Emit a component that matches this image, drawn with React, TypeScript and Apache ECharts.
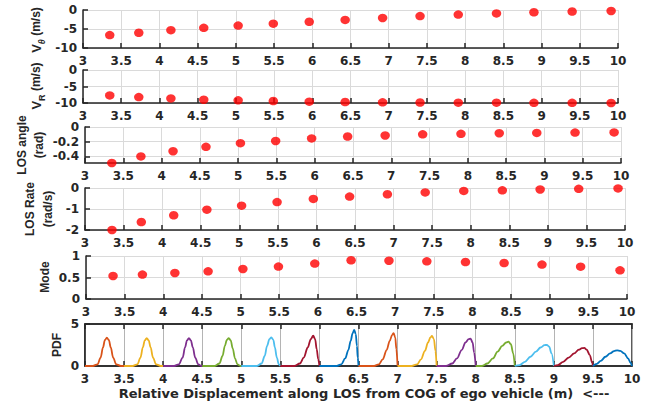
import React, { useEffect, useRef } from 'react';
import * as echarts from 'echarts';

// ---- data ----
const distance = [3.35, 3.73, 4.15, 4.58, 5.03, 5.49, 5.96, 6.43, 6.92, 7.41, 7.91, 8.41, 8.9, 9.4, 9.91];
const vTheta = [-6.6, -6.0, -5.3, -4.7, -4.1, -3.6, -3.1, -2.6, -2.1, -1.6, -1.2, -0.9, -0.6, -0.4, -0.25];
const vR = [-7.7, -8.2, -8.6, -9.0, -9.2, -9.4, -9.6, -9.7, -9.8, -9.85, -9.9, -9.9, -9.95, -9.95, -10];
const losAngle = [-0.49, -0.4, -0.33, -0.27, -0.22, -0.19, -0.155, -0.13, -0.115, -0.1, -0.093, -0.085, -0.08, -0.076, -0.074];
const losRate = [-2.0, -1.62, -1.3, -1.03, -0.84, -0.67, -0.52, -0.41, -0.3, -0.21, -0.14, -0.11, -0.07, -0.04, -0.02];
const mode = [0.535, 0.567, 0.605, 0.644, 0.698, 0.753, 0.823, 0.9, 0.89, 0.876, 0.86, 0.837, 0.8, 0.752, 0.667];

const xTickLabels = ['3', '3.5', '4', '4.5', '5', '5.5', '6', '6.5', '7', '7.5', '8', '8.5', '9', '9.5', '10'];
const losAngleTicks = [-0.4, -0.2, 0];

const pdf1 = [[3.0, 0], [3.1, 0], [3.16, 0.2], [3.2, 1.0], [3.23, 2.2], [3.255, 3.1], [3.28, 3.37], [3.305, 3.1], [3.33, 2.2], [3.36, 1.0], [3.4, 0.2], [3.46, 0], [3.5, 0]];
const pdf2 = [[3.5, 0], [3.61, 0], [3.67, 0.2], [3.71, 1.0], [3.74, 2.2], [3.765, 3.05], [3.79, 3.33], [3.815, 3.05], [3.84, 2.2], [3.87, 1.0], [3.91, 0.2], [3.97, 0], [4.0, 0]];
const pdf3 = [[4.0, 0], [4.14, 0], [4.2, 0.2], [4.25, 1.0], [4.28, 2.2], [4.305, 3.05], [4.33, 3.33], [4.355, 3.05], [4.38, 2.2], [4.41, 1.0], [4.45, 0.2], [4.49, 0], [4.5, 0]];
const pdf4 = [[4.5, 0], [4.66, 0], [4.72, 0.3], [4.76, 1.2], [4.79, 2.4], [4.815, 3.1], [4.84, 3.33], [4.865, 3.05], [4.89, 2.1], [4.92, 0.9], [4.95, 0.2], [4.99, 0], [5.0, 0]];
const pdf5 = [[5.0, 0], [5.2, 0], [5.26, 0.3], [5.3, 1.2], [5.33, 2.4], [5.36, 3.2], [5.385, 3.4], [5.41, 3.1], [5.43, 2.2], [5.455, 1.0], [5.48, 0.2], [5.5, 0]];
const pdf6 = [[5.5, 0], [5.68, 0], [5.75, 0.3], [5.8, 1.0], [5.85, 2.2], [5.89, 3.2], [5.92, 3.6], [5.945, 3.2], [5.965, 2.0], [5.985, 0.8], [6.0, 0]];
const pdf7 = [[6.0, 0], [6.22, 0], [6.28, 0.2], [6.33, 0.9], [6.37, 1.9], [6.4, 3.0], [6.425, 3.9], [6.445, 4.3], [6.465, 3.8], [6.48, 2.4], [6.49, 1.0], [6.5, 0]];
const pdf8 = [[6.5, 0], [6.7, 0], [6.76, 0.2], [6.81, 0.8], [6.86, 1.9], [6.9, 3.0], [6.93, 3.7], [6.95, 3.9], [6.97, 3.4], [6.985, 2.0], [7.0, 0]];
const pdf9 = [[7.0, 0], [7.18, 0], [7.25, 0.2], [7.3, 0.8], [7.35, 1.8], [7.39, 2.8], [7.42, 3.4], [7.44, 3.58], [7.465, 3.2], [7.485, 1.8], [7.5, 0]];
const pdf10 = [[7.5, 0], [7.62, 0], [7.7, 0.3], [7.76, 0.9], [7.82, 1.9], [7.87, 2.8], [7.91, 3.2], [7.935, 3.25], [7.96, 2.8], [7.98, 1.6], [8.0, 0]];
const pdf11 = [[8.0, 0], [8.08, 0], [8.15, 0.3], [8.22, 0.9], [8.28, 1.7], [8.34, 2.4], [8.39, 2.8], [8.42, 2.89], [8.45, 2.6], [8.48, 1.5], [8.5, 0]];
const pdf12 = [[8.5, 0], [8.56, 0.1], [8.63, 0.5], [8.7, 1.1], [8.77, 1.7], [8.83, 2.2], [8.88, 2.48], [8.91, 2.52], [8.94, 2.3], [8.97, 1.5], [9.0, 0]];
const pdf13 = [[9.0, 0], [9.05, 0.1], [9.12, 0.5], [9.19, 1.0], [9.26, 1.5], [9.32, 1.95], [9.36, 2.12], [9.39, 2.15], [9.42, 1.95], [9.46, 1.3], [9.49, 0.4], [9.5, 0]];
const pdf14 = [[9.5, 0], [9.55, 0.25], [9.6, 0.6], [9.66, 1.1], [9.72, 1.5], [9.77, 1.78], [9.81, 1.87], [9.85, 1.8], [9.9, 1.5], [9.95, 0.9], [9.98, 0.4], [10.0, 0]];
const pdfCurves = [pdf1, pdf2, pdf3, pdf4, pdf5, pdf6, pdf7, pdf8, pdf9, pdf10, pdf11, pdf12, pdf13, pdf14];

// ---- styles ----
const pdfColors = ['#D95319', '#EDB120', '#7E2F8E', '#77AC30', '#4DBEEE', '#A2142F', '#0072BD',
  '#D95319', '#EDB120', '#7E2F8E', '#77AC30', '#4DBEEE', '#A2142F', '#0072BD'];
const TICKFONT = '"DejaVu Sans", Verdana, sans-serif';
const NAMEFONT = '"Liberation Sans", Arial, sans-serif';
const DARK = '#262626';
const GRIDC = '#dadada';

const grids = [
  { left: 83, top: 10, width: 535, height: 38 },
  { left: 83, top: 70, width: 535, height: 33 },
  { left: 85, top: 127, width: 536, height: 36 },
  { left: 85, top: 188, width: 540, height: 42 },
  { left: 86, top: 256, width: 541, height: 43 },
  { left: 85, top: 324, width: 547, height: 42 },
];

export default function App() {
  const ref = useRef<HTMLDivElement>(null);
  useEffect(() => {
    if (!ref.current) return;
    const chart = echarts.init(ref.current, undefined, { renderer: 'svg' });
    const labelStyle = { color: DARK, fontWeight: 'bold' as const, fontSize: 12, fontFamily: TICKFONT };
    const xAxes: any[] = grids.map((_, i) => ({
      gridIndex: i, type: 'value', min: 3, max: 10, interval: 0.5,
      axisLine: { show: true, onZero: false, lineStyle: { color: DARK, width: 1.5 } },
      axisTick: { show: true, inside: true, length: 5, lineStyle: { color: DARK, width: 1.5 } },
      axisLabel: { ...labelStyle, margin: 7, formatter: (v: number) => xTickLabels[Math.round((v - 3) * 2)] ?? '' },
      splitLine: { show: true, lineStyle: { color: i === 5 ? '#b4b4b4' : GRIDC, width: 1 } },
    }));
    xAxes.push({
      gridIndex: 5, type: 'value', min: 3, max: 10, interval: 0.5, position: 'top',
      axisLine: { show: true, onZero: false, lineStyle: { color: DARK, width: 1.5 } },
      axisTick: { show: true, inside: true, length: 5, lineStyle: { color: DARK, width: 1.5 } },
      axisLabel: { show: false }, splitLine: { show: false },
    });
    const yBase = (i: number, extra: any) => ({
      gridIndex: i, type: 'value',
      axisLine: { show: true, onZero: false, lineStyle: { color: DARK, width: 1.5 } },
      axisTick: { show: true, inside: true, length: 5, lineStyle: { color: DARK, width: 1.5 } },
      axisLabel: { ...labelStyle, margin: 6 },
      splitLine: { show: i !== 5, lineStyle: { color: GRIDC, width: 1 } },
      ...extra,
    });
    const yAxes = [
      yBase(0, { min: -10, max: 0, interval: 5 }),
      yBase(1, { min: -10, max: 0, interval: 5 }),
      yBase(2, {
        min: -0.49, max: 0,
        axisLabel: { ...labelStyle, margin: 6, customValues: losAngleTicks },
        axisTick: { show: true, inside: true, length: 5, lineStyle: { color: DARK, width: 1.5 }, customValues: losAngleTicks },
      }),
      yBase(3, { min: -2, max: 0, interval: 1 }),
      yBase(4, { min: 0, max: 1, interval: 0.5 }),
      yBase(5, { min: 0, max: 5, interval: 5 }),
    ];
    const scatterData = [vTheta, vR, losAngle, losRate, mode];
    const series: any[] = scatterData.map((vals, i) => ({
      type: 'scatter', xAxisIndex: i, yAxisIndex: i, clip: false,
      symbolSize: [9.5, 8.5], itemStyle: { color: '#ff0000' },
      data: distance.map((x, j) => [x, vals[j]]),
    }));
    pdfCurves.forEach((c, k) => {
      series.push({
        type: 'line', xAxisIndex: 5, yAxisIndex: 5, showSymbol: false, symbol: 'none',
        smooth: 0.35, smoothMonotone: 'x', clip: false,
        lineStyle: { color: pdfColors[k], width: 1.8 }, data: c,
      });
    });
    const vt = (text: string, x: number, y: number, rich?: any) => ({
      type: 'text', x, y, rotation: Math.PI / 2,
      style: { text, fill: DARK, font: `bold 12px ${NAMEFONT}`, fontWeight: 'bold', fontSize: 12, fontFamily: NAMEFONT,
        textAlign: 'center', textVerticalAlign: 'middle', rich },
    });
    const subRich = {
      v: { fontSize: 13, fontWeight: 'bold', fontFamily: NAMEFONT, fill: DARK, lineHeight: 17, verticalAlign: 'top' },
      s: { fontSize: 9, fontWeight: 'bold', fontFamily: NAMEFONT, fill: DARK, lineHeight: 9, verticalAlign: 'bottom' },
      t: { fontSize: 9, fontWeight: 'bold', fontStyle: 'italic', fontFamily: NAMEFONT, fill: DARK, lineHeight: 9, verticalAlign: 'bottom' },
      n: { fontSize: 12, fontWeight: 'bold', fontFamily: NAMEFONT, fill: DARK, lineHeight: 17, verticalAlign: 'top' },
    };
    chart.setOption({
      animation: false,
      grid: grids.map((g, i) => ({ ...g, containLabel: false, show: i === 5, borderColor: DARK, borderWidth: 1.5, backgroundColor: 'transparent' })),
      xAxis: xAxes,
      yAxis: yAxes,
      series,
      graphic: [
        vt('{v|V}{t|θ}{n| (m/s)}', 38, 30, subRich),
        vt('{v|V}{s|R}{n| (m/s)}', 38, 86, subRich),
        vt('LOS angle', 22, 145),
        vt('(rad)', 39, 145),
        vt('LOS Rate', 30, 209),
        vt('(rad/s)', 48, 209),
        vt('Mode', 45, 277),
        vt('PDF', 57, 345),
        {
          type: 'text', x: 364, y: 393,
          style: { text: 'Relative Displacement along LOS from COG of ego vehicle (m)  <---', fill: DARK,
            font: `bold 13px ${TICKFONT}`, textAlign: 'center', textVerticalAlign: 'middle' },
        },
      ],
    });
    return () => chart.dispose();
  }, []);
  return <div ref={ref} style={{ width: 654, height: 403, position: 'absolute', left: 0, top: 0 }} />;
}
